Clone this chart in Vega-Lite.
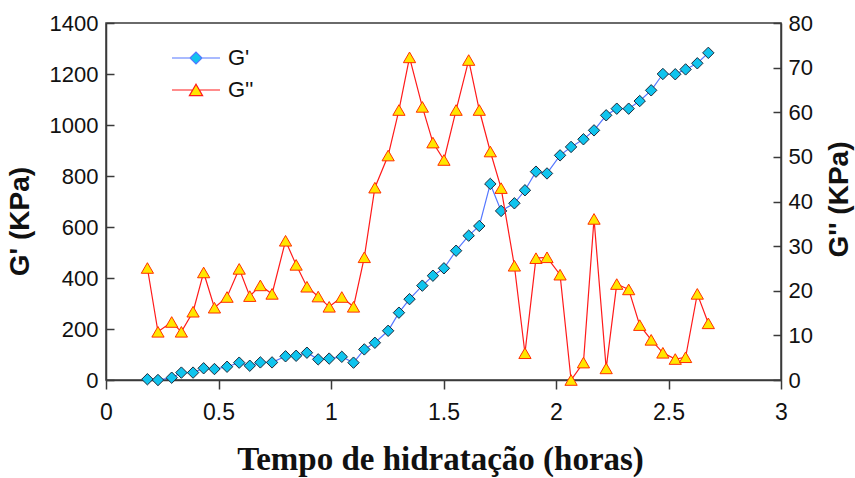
{
  "$schema": "https://vega.github.io/schema/vega-lite/v6.json",
  "width": 675,
  "height": 357,
  "autosize": {"type": "none"},
  "padding": {"left": 106, "top": 23, "right": 74, "bottom": 98},
  "background": "white",
  "config": {
    "view": {"stroke": "#3a3a3a", "strokeWidth": 1.5},
    "axis": {
      "labelFont": "Liberation Sans",
      "labelColor": "#111111",
      "domainColor": "#3a3a3a",
      "domainWidth": 1.5,
      "tickColor": "#3a3a3a",
      "tickWidth": 1.5,
      "grid": false,
      "titleColor": "#111111"
    },
    "legend": {
      "labelFont": "Liberation Sans",
      "labelFontSize": 22,
      "labelColor": "#111111",
      "padding": 0,
      "rowPadding": 10,
      "symbolSize": 144,
      "symbolStrokeWidth": 1.2,
      "labelOffset": 21
    }
  },
  "data": {
    "values": [
      {"t": 0.184, "serie": "G'", "valor": 3}, {"t": 0.231, "serie": "G'", "valor": 0},
      {"t": 0.292, "serie": "G'", "valor": 9}, {"t": 0.335, "serie": "G'", "valor": 29},
      {"t": 0.387, "serie": "G'", "valor": 29}, {"t": 0.434, "serie": "G'", "valor": 46},
      {"t": 0.482, "serie": "G'", "valor": 43}, {"t": 0.538, "serie": "G'", "valor": 52},
      {"t": 0.592, "serie": "G'", "valor": 68}, {"t": 0.639, "serie": "G'", "valor": 56},
      {"t": 0.686, "serie": "G'", "valor": 69}, {"t": 0.738, "serie": "G'", "valor": 69},
      {"t": 0.798, "serie": "G'", "valor": 93}, {"t": 0.845, "serie": "G'", "valor": 95},
      {"t": 0.893, "serie": "G'", "valor": 107}, {"t": 0.943, "serie": "G'", "valor": 81},
      {"t": 0.992, "serie": "G'", "valor": 84}, {"t": 1.048, "serie": "G'", "valor": 91},
      {"t": 1.1, "serie": "G'", "valor": 68}, {"t": 1.148, "serie": "G'", "valor": 120},
      {"t": 1.195, "serie": "G'", "valor": 146}, {"t": 1.254, "serie": "G'", "valor": 193},
      {"t": 1.302, "serie": "G'", "valor": 264}, {"t": 1.349, "serie": "G'", "valor": 317},
      {"t": 1.406, "serie": "G'", "valor": 370}, {"t": 1.453, "serie": "G'", "valor": 409},
      {"t": 1.502, "serie": "G'", "valor": 438}, {"t": 1.556, "serie": "G'", "valor": 507},
      {"t": 1.612, "serie": "G'", "valor": 566}, {"t": 1.659, "serie": "G'", "valor": 604},
      {"t": 1.708, "serie": "G'", "valor": 769}, {"t": 1.756, "serie": "G'", "valor": 663},
      {"t": 1.815, "serie": "G'", "valor": 693}, {"t": 1.862, "serie": "G'", "valor": 744},
      {"t": 1.911, "serie": "G'", "valor": 817}, {"t": 1.96, "serie": "G'", "valor": 810},
      {"t": 2.018, "serie": "G'", "valor": 881}, {"t": 2.067, "serie": "G'", "valor": 914},
      {"t": 2.122, "serie": "G'", "valor": 944}, {"t": 2.169, "serie": "G'", "valor": 979},
      {"t": 2.223, "serie": "G'", "valor": 1038}, {"t": 2.27, "serie": "G'", "valor": 1064},
      {"t": 2.323, "serie": "G'", "valor": 1064}, {"t": 2.372, "serie": "G'", "valor": 1094},
      {"t": 2.423, "serie": "G'", "valor": 1136}, {"t": 2.475, "serie": "G'", "valor": 1200},
      {"t": 2.53, "serie": "G'", "valor": 1199}, {"t": 2.576, "serie": "G'", "valor": 1218},
      {"t": 2.628, "serie": "G'", "valor": 1242}, {"t": 2.677, "serie": "G'", "valor": 1283},

      {"t": 0.184, "serie": "G''", "valor": 25.1}, {"t": 0.231, "serie": "G''", "valor": 10.8},
      {"t": 0.292, "serie": "G''", "valor": 13.0}, {"t": 0.335, "serie": "G''", "valor": 10.8},
      {"t": 0.387, "serie": "G''", "valor": 15.3}, {"t": 0.434, "serie": "G''", "valor": 24.1},
      {"t": 0.482, "serie": "G''", "valor": 16.2}, {"t": 0.538, "serie": "G''", "valor": 18.6},
      {"t": 0.592, "serie": "G''", "valor": 24.9}, {"t": 0.639, "serie": "G''", "valor": 18.8},
      {"t": 0.686, "serie": "G''", "valor": 21.2}, {"t": 0.738, "serie": "G''", "valor": 19.3},
      {"t": 0.798, "serie": "G''", "valor": 31.2}, {"t": 0.845, "serie": "G''", "valor": 25.8},
      {"t": 0.893, "serie": "G''", "valor": 20.9}, {"t": 0.943, "serie": "G''", "valor": 18.7},
      {"t": 0.992, "serie": "G''", "valor": 16.4}, {"t": 1.048, "serie": "G''", "valor": 18.6},
      {"t": 1.1, "serie": "G''", "valor": 16.4}, {"t": 1.148, "serie": "G''", "valor": 27.5},
      {"t": 1.195, "serie": "G''", "valor": 43.1}, {"t": 1.254, "serie": "G''", "valor": 50.3},
      {"t": 1.302, "serie": "G''", "valor": 60.5}, {"t": 1.349, "serie": "G''", "valor": 72.3},
      {"t": 1.406, "serie": "G''", "valor": 61.2}, {"t": 1.453, "serie": "G''", "valor": 53.2},
      {"t": 1.502, "serie": "G''", "valor": 49.3}, {"t": 1.556, "serie": "G''", "valor": 60.5},
      {"t": 1.612, "serie": "G''", "valor": 71.7}, {"t": 1.659, "serie": "G''", "valor": 60.5},
      {"t": 1.708, "serie": "G''", "valor": 51.2}, {"t": 1.756, "serie": "G''", "valor": 43.0},
      {"t": 1.815, "serie": "G''", "valor": 25.6}, {"t": 1.862, "serie": "G''", "valor": 6.0},
      {"t": 1.911, "serie": "G''", "valor": 27.3}, {"t": 1.96, "serie": "G''", "valor": 27.5},
      {"t": 2.018, "serie": "G''", "valor": 23.6}, {"t": 2.067, "serie": "G''", "valor": 0},
      {"t": 2.122, "serie": "G''", "valor": 3.9}, {"t": 2.169, "serie": "G''", "valor": 36.1},
      {"t": 2.223, "serie": "G''", "valor": 2.6}, {"t": 2.27, "serie": "G''", "valor": 21.5},
      {"t": 2.323, "serie": "G''", "valor": 20.3}, {"t": 2.372, "serie": "G''", "valor": 12.3},
      {"t": 2.423, "serie": "G''", "valor": 9.0}, {"t": 2.475, "serie": "G''", "valor": 6.1},
      {"t": 2.53, "serie": "G''", "valor": 4.7}, {"t": 2.576, "serie": "G''", "valor": 5.1},
      {"t": 2.628, "serie": "G''", "valor": 19.3}, {"t": 2.677, "serie": "G''", "valor": 12.7}
    ]
  },
  "encoding": {
    "x": {
      "field": "t",
      "type": "quantitative",
      "scale": {"domain": [0, 3], "nice": false},
      "axis": {
        "values": [0, 0.5, 1, 1.5, 2, 2.5, 3],
        "format": ".1~f",
        "labelFontSize": 23,
        "tickSize": 9,
        "labelPadding": 12,
        "labelFlush": false,
        "title": "Tempo de hidratação (horas)",
        "titleFont": "Liberation Serif",
        "titleFontSize": 33,
        "titleFontWeight": "bold",
        "titleX": 334,
        "titleY": 79,
        "titleBaseline": "middle"
      }
    }
  },
  "layer": [
    {
      "transform": [{"filter": "datum.serie === \"G'\""}],
      "encoding": {
        "y": {
          "field": "valor",
          "type": "quantitative",
          "scale": {"domain": [0, 1400], "nice": false},
          "axis": {
            "orient": "left",
            "values": [0, 200, 400, 600, 800, 1000, 1200, 1400],
            "format": "d",
            "labelFontSize": 22,
            "tickSize": -8,
            "labelPadding": 16,
            "title": "G' (KPa)",
            "titleFont": "Liberation Sans",
            "titleFontSize": 28,
            "titleFontWeight": "bold",
            "titleAngle": 270,
            "titleX": -86,
            "titleY": 198,
            "titleBaseline": "middle"
          }
        }
      },
      "layer": [
        {
          "mark": {"type": "line", "stroke": "#5577ff", "strokeWidth": 1.2, "clip": false}
        },
        {
          "mark": {"type": "point", "shape": "diamond", "filled": true, "size": 130, "fill": "#10c4ee", "stroke": "#1e2a3a", "strokeWidth": 1, "opacity": 1, "clip": false}
        },
        {
          "transform": [{"filter": "false"}],
          "mark": {"type": "point", "filled": true, "opacity": 1},
          "encoding": {
            "shape": {
              "field": "serie",
              "type": "nominal",
              "scale": {
                "domain": ["G'", "G''"],
                "range": ["M-4,0H-1M1,0H4M-1,0L0,-1L1,0L0,1Z", "M-4,0H-0.55M0.55,0H4M-1.1,0.95H1.1L0,-0.95Z"]
              },
              "legend": {"orient": "none", "legendX": 79, "legendY": 24, "title": null}
            },
            "fill": {
              "field": "serie",
              "type": "nominal",
              "scale": {"domain": ["G'", "G''"], "range": ["#10c4ee", "#ffe600"]},
              "legend": {"orient": "none", "legendX": 79, "legendY": 24, "title": null}
            },
            "stroke": {
              "field": "serie",
              "type": "nominal",
              "scale": {"domain": ["G'", "G''"], "range": ["#5577ff", "#ff1a1a"]},
              "legend": {"orient": "none", "legendX": 79, "legendY": 24, "title": null}
            }
          }
        }
      ]
    },
    {
      "transform": [{"filter": "datum.serie === \"G''\""}],
      "encoding": {
        "y": {
          "field": "valor",
          "type": "quantitative",
          "scale": {"domain": [0, 80], "nice": false},
          "axis": {
            "orient": "right",
            "values": [0, 10, 20, 30, 40, 50, 60, 70, 80],
            "format": "d",
            "labelFontSize": 22,
            "tickSize": -8,
            "labelPadding": 15,
            "title": "G'' (KPa)",
            "titleFont": "Liberation Sans",
            "titleFontSize": 28,
            "titleFontWeight": "bold",
            "titleAngle": 270,
            "titleX": 58,
            "titleY": 176,
            "titleBaseline": "middle"
          }
        }
      },
      "layer": [
        {
          "mark": {"type": "line", "stroke": "#ff1a1a", "strokeWidth": 1.2, "clip": false}
        },
        {
          "mark": {"type": "point", "shape": "triangle-up", "filled": true, "size": 150, "fill": "#ffe600", "stroke": "#ff3000", "strokeWidth": 1, "opacity": 1, "clip": false}
        }
      ]
    }
  ],
  "resolve": {"scale": {"y": "independent"}}
}
